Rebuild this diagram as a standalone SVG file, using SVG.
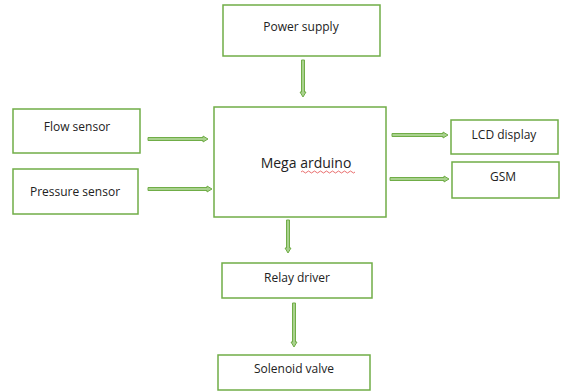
<svg xmlns="http://www.w3.org/2000/svg" width="561" height="392" viewBox="0 0 561 392">
<style>
.box{fill:#fff;stroke:#70AD47;stroke-width:1.5}
.t{font-family:"Open Sans","Liberation Sans",sans-serif;font-size:12px;fill:#222;text-anchor:middle}
.arr{fill:#A9D18E;stroke:#70AD47;stroke-width:1}
</style>
<rect width="561" height="392" fill="#fff"/>
<g id="power"><rect class="box" x="223" y="5" width="157" height="51"/><text class="t" x="301" y="31">Power supply</text></g>
<g id="mega"><rect class="box" x="214" y="107" width="172" height="110"/><text class="t" x="306" y="168" style="font-size:14px">Mega arduino</text>
<path d="M301 172 q1.5 -2 3 0 t3 0 t3 0 t3 0 t3 0 t3 0 t3 0 t3 0 t3 0 t3 0 t3 0 t3 0 t3 0 t3 0 t3 0 t3 0 t3 0 t3 0" fill="none" stroke="#e03030" stroke-width="0.7"/></g>
<g id="flow"><rect class="box" x="13" y="109" width="127" height="44"/><text class="t" x="77" y="131">Flow sensor</text></g>
<g id="pressure"><rect class="box" x="13" y="169" width="125" height="45"/><text class="t" x="75" y="196">Pressure sensor</text></g>
<g id="lcd"><rect class="box" x="451" y="120" width="107" height="34"/><text class="t" x="504" y="139">LCD display</text></g>
<g id="gsm"><rect class="box" x="452" y="162" width="107" height="36"/><text class="t" x="503" y="181">GSM</text></g>
<g id="relay"><rect class="box" x="222" y="263" width="150" height="35"/><text class="t" x="297" y="282">Relay driver</text></g>
<g id="solenoid"><rect class="box" x="218" y="355" width="152" height="35"/><text class="t" x="294" y="373">Solenoid valve</text></g>
<g id="connectors">
<polygon class="arr" points="301.5,60 301.5,92 300,92 303,97 306,92 304.5,92 304.5,60"/>
<polygon class="arr" points="148,137.5 203,137.5 203,136 208,139 203,142 203,140.5 148,140.5"/>
<polygon class="arr" points="148,187.5 207,187.5 207,186 212,189 207,192 207,190.5 148,190.5"/>
<polygon class="arr" points="392,133.5 443,133.5 443,132 448,135 443,138 443,136.5 392,136.5"/>
<polygon class="arr" points="390,177.5 444,177.5 444,176 449,179 444,182 444,180.5 390,180.5"/>
<polygon class="arr" points="286.5,220 286.5,248 285,248 288,253 291,248 289.5,248 289.5,220"/>
<polygon class="arr" points="292.5,303 292.5,342 291,342 294,347 297,342 295.5,342 295.5,303"/>
</g>
</svg>
